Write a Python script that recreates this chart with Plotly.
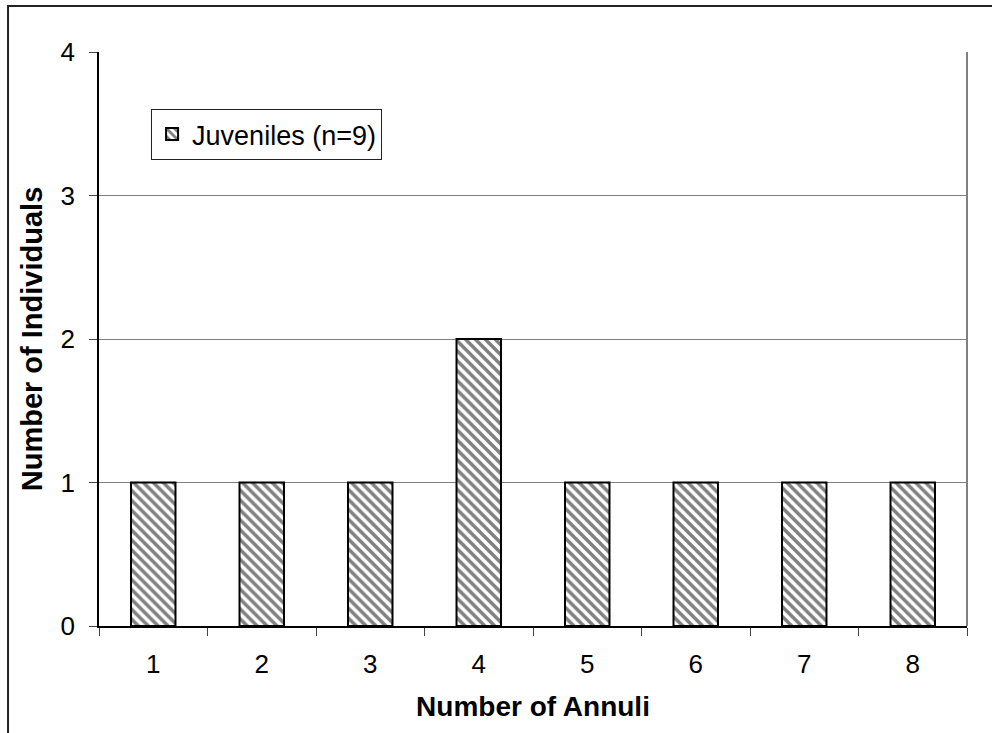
import plotly.graph_objects as go

# Annulus counts for the juvenile sample
annuli = ["1", "2", "3", "4", "5", "6", "7", "8"]
individuals = [1, 1, 1, 2, 1, 1, 1, 1]
y_ticks = [0, 1, 2, 3, 4]
series_name = "Juveniles (n=9)"

FONT = "Arial, 'Liberation Sans', sans-serif"

fig = go.Figure()
fig.add_trace(go.Bar(
    x=annuli,
    y=individuals,
    name=series_name,
    width=0.41,
    marker=dict(
        color="white",
        line=dict(color="black", width=2),
        pattern=dict(shape="\\", fgcolor="#808080", bgcolor="white",
                     size=7, solidity=0.5, fillmode="replace"),
    ),
    showlegend=True,
))

fig.update_layout(
    width=992,
    height=733,
    margin=dict(l=99, r=25, t=52, b=107),
    paper_bgcolor="white",
    plot_bgcolor="white",
    font=dict(family=FONT, size=26, color="black"),
    bargap=0.59,
    legend=dict(
        x=0.06, y=0.9007, xanchor="left", yanchor="top",
        bordercolor="#222222", borderwidth=1, bgcolor="white",
        font=dict(family=FONT, size=27, color="black"),
        itemwidth=30,
        tracegroupgap=0,
    ),
    xaxis=dict(
        type="category",
        tickson="boundaries",
        ticks="outside", ticklen=8, tickwidth=1, tickcolor="#444444",
        showline=True, linecolor="black", linewidth=1.5,
        showgrid=False,
        tickfont=dict(family=FONT, size=26),
        ticklabelstandoff=14,
        title=dict(text="<b>Number of Annuli</b>", font=dict(family=FONT, size=28), standoff=18),
    ),
    yaxis=dict(
        range=[0, 4],
        tickvals=y_ticks,
        ticks="outside", ticklen=8, tickwidth=1, tickcolor="#444444",
        showline=True, linecolor="black", linewidth=1.5,
        showgrid=True, gridcolor="#808080", gridwidth=1,
        zeroline=False,
        tickfont=dict(family=FONT, size=26),
        ticklabelstandoff=9,
        title=dict(text="<b>Number of Individuals</b>", font=dict(family=FONT, size=29), standoff=9),
    ),
)

# Right edge of the plot area
fig.add_shape(type="line", xref="paper", yref="paper",
              x0=1, x1=1, y0=0, y1=1,
              line=dict(color="#808080", width=2))

# Outer chart frame (runs past the right and bottom of the page)
fig.add_shape(type="rect", xref="paper", yref="paper",
              x0=-0.1048, x1=1.04, y0=-0.2, y1=1.0801,
              line=dict(color="#222222", width=2), fillcolor="rgba(0,0,0,0)",
              layer="above")

fig.write_html("out.html")
